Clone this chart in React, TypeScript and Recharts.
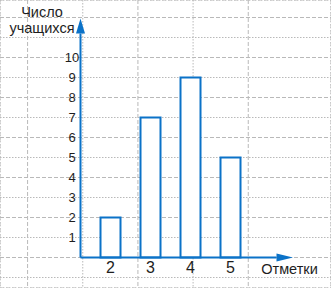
import React from 'react';
import {
  ComposedChart,
  Bar,
  XAxis,
  YAxis,
  CartesianGrid,
  ReferenceLine,
  ReferenceDot,
  LabelList,
} from 'recharts';

// Marks received and number of students for each mark
const marks = [2, 3, 4, 5];
const students = [2, 7, 9, 5];
const yTickValues = [1, 2, 3, 4, 5, 6, 7, 8, 9, 10];
const xTitle = 'Отметки';
const yTitleLines = ['Число', 'учащихся'];

const data = marks.map((mark, i) => ({ mark, count: students[i] }));

const BLUE = '#0b72c8';
const GRID = '#b9b9b9';
const TEXT = '#1e1e1e';
const FONT = '"Liberation Sans", Arial, sans-serif';

const W = 331;
const H = 288;

// Scale domains: one x unit = 40px, one y unit = 20px, the whole sheet is graph paper
const X_DOMAIN: [number, number] = [-0.7625, 7.5125];
const Y_DOMAIN: [number, number] = [-1.525, 12.875];

// Where the axes sit and how far their lines run before the arrowheads
const AXIS_X = 1.25;
const X_LINE_END = 6.15;
const Y_LINE_END = 11.2;

// Graph paper: dashed lines every whole cell, dotted half-cell lines between
const majorX = Array.from({ length: 9 }, (_, i) => -0.75 + i);
const minorX = Array.from({ length: 8 }, (_, i) => -0.25 + i);
const majorY = Array.from({ length: 7 }, (_, i) => i * 2);
const minorY = Array.from({ length: 7 }, (_, i) => -1 + i * 2);

const UpArrow = (p: any) => (
  <g>
    <polygon
      points={`${p.cx},${p.cy - 15} ${p.cx - 4.5},${p.cy} ${p.cx + 4.5},${p.cy}`}
      fill={BLUE}
    />
    {yTitleLines.map((line, i) => (
      <text
        key={line}
        x={p.cx - 38.5}
        y={p.cy - 16.5 + i * 15.5}
        textAnchor="middle"
        fontSize={14.5}
        fontFamily={FONT}
        fill={TEXT}
      >
        {line}
      </text>
    ))}
  </g>
);

const RightArrow = (p: any) => (
  <g>
    <polygon
      points={`${p.cx + 16.5},${p.cy} ${p.cx},${p.cy - 4} ${p.cx},${p.cy + 4}`}
      fill={BLUE}
    />
    <text
      x={p.cx + 13}
      y={p.cy + 16.5}
      textAnchor="middle"
      fontSize={14.5}
      fontFamily={FONT}
      fill={TEXT}
    >
      {xTitle}
    </text>
  </g>
);

const YTickLabel = (value: number) => (p: any) => (
  <text
    x={p.cx - 8.5}
    y={p.cy + 4.6}
    textAnchor="middle"
    fontSize={13}
    fontFamily={FONT}
    fill={TEXT}
  >
    {value}
  </text>
);

export default function App() {
  return (
    <div style={{ position: 'absolute', left: 0, top: 0, width: W, height: H, background: '#fff' }}>
      <ComposedChart width={W} height={H} data={data} margin={{ top: 0, right: 0, bottom: 0, left: 0 }}>
        <XAxis xAxisId="main" type="number" dataKey="mark" domain={X_DOMAIN} ticks={marks} allowDataOverflow hide />
        <YAxis yAxisId="main" type="number" domain={Y_DOMAIN} allowDataOverflow hide />
        <XAxis xAxisId="gx1" type="number" domain={X_DOMAIN} ticks={majorX} allowDataOverflow hide />
        <YAxis yAxisId="gy1" type="number" domain={Y_DOMAIN} ticks={majorY} allowDataOverflow hide />
        <XAxis xAxisId="gx2" type="number" domain={X_DOMAIN} ticks={minorX} allowDataOverflow hide />
        <YAxis yAxisId="gy2" type="number" domain={Y_DOMAIN} ticks={minorY} allowDataOverflow hide />

        <CartesianGrid xAxisId="gx2" yAxisId="gy2" stroke={GRID} strokeDasharray="1.5 1.5" />
        <CartesianGrid xAxisId="gx1" yAxisId="gy1" stroke={GRID} strokeDasharray="4 2" />

        <Bar
          xAxisId="main"
          yAxisId="main"
          dataKey="count"
          barSize={20}
          fill="#ffffff"
          stroke={BLUE}
          strokeWidth={2}
          isAnimationActive={false}
        >
          <LabelList
            dataKey="mark"
            position="bottom"
            offset={4}
            fill={TEXT}
            stroke="none"
            fontSize={16}
            fontFamily={FONT}
          />
        </Bar>

        <ReferenceLine
          xAxisId="main"
          yAxisId="main"
          segment={[{ x: AXIS_X, y: 0 }, { x: AXIS_X, y: Y_LINE_END }]}
          stroke={BLUE}
          strokeWidth={2}
        />
        <ReferenceLine
          xAxisId="main"
          yAxisId="main"
          segment={[{ x: AXIS_X, y: 0 }, { x: X_LINE_END, y: 0 }]}
          stroke={BLUE}
          strokeWidth={2}
        />
        <ReferenceDot xAxisId="main" yAxisId="main" x={AXIS_X} y={Y_LINE_END} shape={UpArrow} />
        <ReferenceDot xAxisId="main" yAxisId="main" x={X_LINE_END} y={0} shape={RightArrow} />
        {yTickValues.map((v) => (
          <ReferenceDot key={v} xAxisId="main" yAxisId="main" x={AXIS_X} y={v} shape={YTickLabel(v)} />
        ))}
      </ComposedChart>
    </div>
  );
}
